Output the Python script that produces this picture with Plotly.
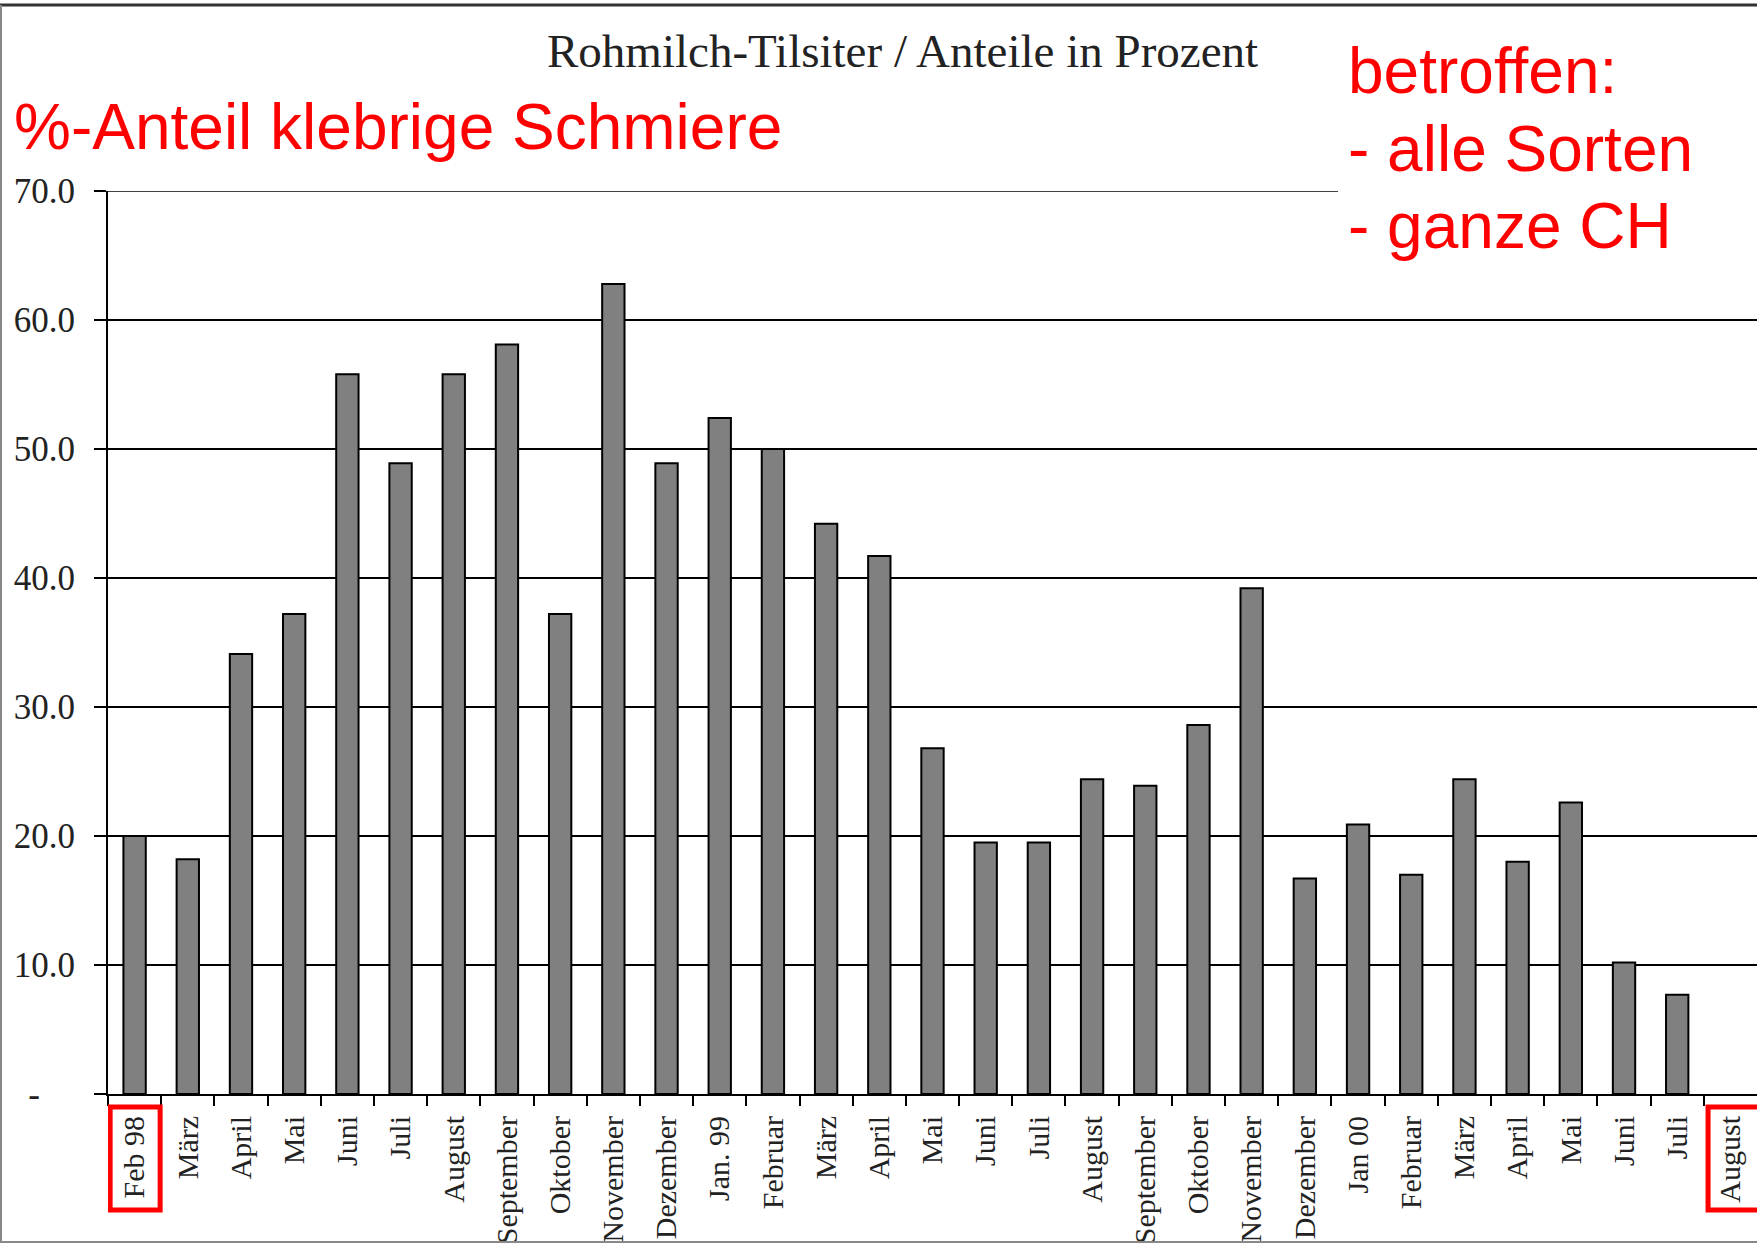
import plotly.graph_objects as go

# ---- data ----
months = ["Feb 98", "März", "April", "Mai", "Juni", "Juli", "August", "September",
          "Oktober", "November", "Dezember", "Jan. 99", "Februar", "März", "April",
          "Mai", "Juni", "Juli", "August", "September", "Oktober", "November",
          "Dezember", "Jan 00", "Februar", "März", "April", "Mai", "Juni", "Juli",
          "August"]
anteil = [20.0, 18.2, 34.1, 37.2, 55.8, 48.9, 55.8, 58.1, 37.2, 62.8, 48.9, 52.4,
          50.0, 44.2, 41.7, 26.8, 19.5, 19.5, 24.4, 23.9, 28.6, 39.2, 16.7, 20.9,
          17.0, 24.4, 18.0, 22.6, 10.2, 7.7, None]
y_ticks = [0, 10, 20, 30, 40, 50, 60, 70]
y_ticktext = ["-\u2007\u2007", "10.0", "20.0", "30.0", "40.0", "50.0", "60.0", "70.0"]

title_text = "Rohmilch-Tilsiter / Anteile in Prozent"
note_left = "%-Anteil klebrige Schmiere"
note_right = ["betroffen:", "- alle Sorten", "- ganze CH"]

# ---- layout geometry (pixels) ----
W, H = 1757, 1244
L, R, T, B = 108, 0, 191, 150
PW, PH = W - L - R, H - T - B


def px(xp):
    return (xp - L) / PW


def py(yp):
    return (H - B - yp) / PH


xidx = list(range(len(months)))

fig = go.Figure()
fig.add_trace(go.Bar(
    x=xidx, y=anteil, width=0.42,
    marker=dict(color="#808080", line=dict(color="black", width=2)),
    showlegend=False, hoverinfo="x+y",
))

serif = "Liberation Serif, Times New Roman, serif"
sans = "Liberation Sans, Arial, sans-serif"

fig.update_layout(
    width=W, height=H,
    margin=dict(l=L, r=R, t=T, b=B, pad=0, autoexpand=False),
    paper_bgcolor="white", plot_bgcolor="white",
    bargap=0.58,
    xaxis=dict(
        range=[-0.5, len(months) - 0.5], automargin=False,
        tickmode="array", tickvals=xidx, ticktext=months,
        tickangle=-90, ticks="", ticklabelstandoff=8,
        tickfont=dict(family=serif, size=30, color="#222"),
        showgrid=False, zeroline=False,
        showline=True, linecolor="black", linewidth=2,
        minor=dict(tickmode="array",
                   tickvals=[i - 0.5 for i in range(len(months))],
                   ticks="outside", ticklen=10, tickwidth=2, tickcolor="black",
                   showgrid=False),
    ),
    yaxis=dict(
        range=[0, 70], automargin=False,
        tickmode="array", tickvals=y_ticks, ticktext=y_ticktext,
        ticks="outside", ticklen=12, tickwidth=1.5, tickcolor="black",
        ticklabelstandoff=12,
        tickfont=dict(family=serif, size=35, color="#222"),
        showgrid=True, gridcolor="black", gridwidth=1.5,
        zeroline=False,
        showline=True, linecolor="black", linewidth=2,
    ),
)

shapes = []
# top grid line at 70
shapes.append(dict(type="line", xref="paper", yref="y",
                   x0=0, x1=1, y0=70, y1=70,
                   line=dict(color="black", width=1.5), layer="below"))
# white box behind the red note (covers the top grid line)
shapes.append(dict(type="rect", xref="paper", yref="paper",
                   x0=px(1338), x1=px(1800), y0=py(268), y1=py(30),
                   fillcolor="white", line=dict(width=0), layer="above"))
# red highlight boxes around first and last month labels
for x0, x1 in [(-0.46, 0.48), (29.58, 30.62)]:
    shapes.append(dict(type="rect", xref="x", yref="paper",
                       x0=x0, x1=x1, y0=py(1107), y1=py(1210),
                       line=dict(color="red", width=5), fillcolor="rgba(0,0,0,0)",
                       layer="above"))
# outer picture border
shapes.append(dict(type="line", xref="paper", yref="paper",
                   x0=px(0), x1=px(W), y0=py(5), y1=py(5),
                   line=dict(color="#333", width=3)))
shapes.append(dict(type="line", xref="paper", yref="paper",
                   x0=px(1), x1=px(1), y0=py(5), y1=py(1242),
                   line=dict(color="#888", width=2)))
shapes.append(dict(type="line", xref="paper", yref="paper",
                   x0=px(0), x1=px(W), y0=py(1242), y1=py(1242),
                   line=dict(color="#888", width=2)))

annotations = [
    dict(text=title_text, xref="paper", yref="paper", x=px(902), y=py(51),
         xanchor="center", yanchor="middle", showarrow=False,
         font=dict(family=serif, size=47, color="#222")),
    dict(text=note_left, xref="paper", yref="paper", x=px(12), y=py(127),
         xanchor="left", yanchor="middle", showarrow=False,
         font=dict(family=sans, size=64, color="red")),
]
for line_text, yc in zip(note_right, [71, 149, 226]):
    annotations.append(dict(text=line_text, xref="paper", yref="paper",
                            x=px(1346), y=py(yc), xanchor="left", yanchor="middle",
                            showarrow=False,
                            font=dict(family=sans, size=64, color="red")))

fig.update_layout(shapes=shapes, annotations=annotations)
fig.write_html("out.html",
               config={"displayModeBar": False},
               post_script="document.body.style.margin='0px';"
                           "document.body.style.overflow='hidden';")
